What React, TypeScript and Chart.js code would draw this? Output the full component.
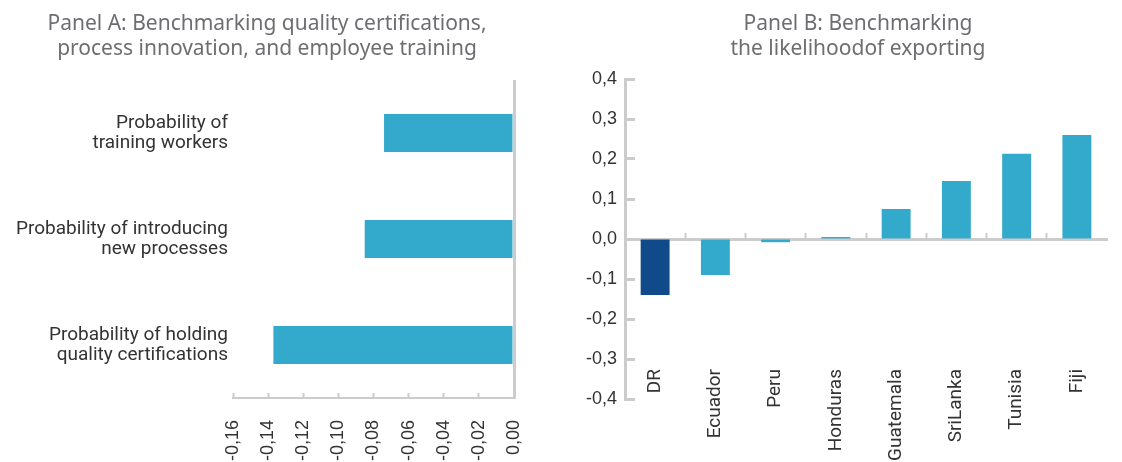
import React, { useEffect, useRef } from "react";
import { Chart, registerables } from "chart.js";

Chart.register(...registerables);

// ---- Data ----
const panelATitle = ["Panel A: Benchmarking quality certifications,", "process innovation, and employee training"];
const panelBTitle = ["Panel B: Benchmarking", "the likelihoodof exporting"];

const indicatorLabels = [
  ["Probability of", "training workers"],
  ["Probability of introducing", "new processes"],
  ["Probability of holding", "quality certifications"],
];
const indicatorValues = [-0.074, -0.085, -0.137];

const countries = ["DR", "Ecuador", "Peru", "Honduras", "Guatemala", "SriLanka", "Tunisia", "Fiji"];
const exportValues = [-0.14, -0.09, -0.008, 0.005, 0.075, 0.145, 0.213, 0.26];
const highlightCountry = "DR";

// ---- Styles ----
const LIGHT = "#33aacb";
const DARK = "#104a8a";
const AXIS = "#cccccc";
const TEXT = "#333333";
const TITLE = "#6d6e71";
const LABEL_FONT = "Roboto, 'Noto Sans', sans-serif";
const TITLE_FONT = "'Noto Sans', Roboto, sans-serif";
const NUM_FONT = "'Liberation Sans', Arial, sans-serif";

const fmt = (v: number, d: number) => {
  const n = Math.abs(v) < 1e-9 ? 0 : v;
  return n.toFixed(d).replace(".", ",");
};

const zeroPad = (s: any) => {
  s.paddingLeft = 0;
  s.paddingRight = 0;
  s.paddingTop = 0;
  s.paddingBottom = 0;
};

function PanelA() {
  const ref = useRef<HTMLCanvasElement>(null);
  useEffect(() => {
    const chart = new Chart(ref.current!, {
      type: "bar",
      data: {
        labels: indicatorLabels,
        datasets: [
          {
            data: indicatorValues,
            backgroundColor: LIGHT,
            barPercentage: 0.36,
            categoryPercentage: 1,
          },
        ],
      },
      options: {
        indexAxis: "y",
        animation: false,
        responsive: false,
        maintainAspectRatio: false,
        layout: { padding: { top: 80, right: 26, bottom: 0, left: 0 } },
        plugins: { legend: { display: false }, tooltip: { enabled: false } },
        scales: {
          x: {
            type: "linear",
            position: "bottom",
            min: -0.16,
            max: 0,
            ticks: {
              stepSize: 0.02,
              minRotation: 90,
              maxRotation: 90,
              padding: 27,
              color: TEXT,
              font: { family: NUM_FONT, size: 18 },
              callback: (v: any) => fmt(Number(v), 2),
            },
            grid: {
              color: (c: any) => (c.tick && Math.abs(c.tick.value) < 1e-9 ? AXIS : "rgba(0,0,0,0)"),
              lineWidth: 3,
              drawTicks: true,
              tickLength: -5,
              tickColor: AXIS,
              tickWidth: 2,
            },
            border: { display: true, color: AXIS, width: 2 },
            afterFit: (s: any) => {
              s.height = 64;
              zeroPad(s);
            },
          },
          y: {
            position: "left",
            grid: { display: false, drawTicks: false },
            border: { display: false },
            ticks: {
              padding: 5,
              color: TEXT,
              font: { family: LABEL_FONT, size: 19, lineHeight: 1.03 },
            },
            afterFit: (s: any) => {
              s.width = 233;
              zeroPad(s);
            },
          },
        },
      },
    } as any);
    return () => chart.destroy();
  }, []);
  return <canvas ref={ref} width={540} height={462} style={{ position: "absolute", left: 0, top: 0 }} />;
}

function PanelB() {
  const ref = useRef<HTMLCanvasElement>(null);
  useEffect(() => {
    const chart = new Chart(ref.current!, {
      type: "bar",
      data: {
        labels: countries,
        datasets: [
          {
            data: exportValues,
            backgroundColor: countries.map((c) => (c === highlightCountry ? DARK : LIGHT)),
            barPercentage: 0.48,
            categoryPercentage: 1,
            xAxisID: "x",
            yAxisID: "y",
          },
        ],
      },
      options: {
        animation: false,
        responsive: false,
        maintainAspectRatio: false,
        layout: { padding: { top: 79, right: 15, bottom: 63, left: 0 } },
        plugins: { legend: { display: false }, tooltip: { enabled: false } },
        scales: {
          x: {
            type: "category",
            position: { y: 0 },
            offset: true,
            ticks: { display: false },
            grid: {
              offset: true,
              drawOnChartArea: false,
              drawTicks: true,
              tickLength: -8,
              tickWidth: 2,
              tickColor: (c: any) => (c.type === "tick" ? AXIS : "rgba(0,0,0,0)"),
            },
            border: { display: true, color: AXIS, width: 3 },
            afterFit: zeroPad,
          },
          x2: {
            type: "category",
            position: { y: -0.4 },
            offset: true,
            grid: { display: false, drawTicks: false },
            border: { display: false },
            ticks: {
              minRotation: 90,
              maxRotation: 90,
              autoSkip: false,
              padding: -30,
              color: TEXT,
              font: { family: LABEL_FONT, size: 19 },
            },
            afterFit: zeroPad,
          },
          y: {
            position: "left",
            min: -0.4,
            max: 0.4,
            ticks: {
              stepSize: 0.1,
              padding: 18,
              color: TEXT,
              font: { family: NUM_FONT, size: 18 },
              callback: (v: any) => fmt(Number(v), 1),
            },
            grid: {
              drawOnChartArea: false,
              drawTicks: true,
              tickLength: -10,
              tickColor: AXIS,
              tickWidth: 3,
            },
            border: { display: true, color: AXIS, width: 3 },
            afterFit: (s: any) => {
              s.width = 85;
              zeroPad(s);
            },
          },
        },
      },
    } as any);
    return () => chart.destroy();
  }, []);
  return <canvas ref={ref} width={582} height={462} style={{ position: "absolute", left: 540, top: 0 }} />;
}

function Title({ lines, center }: { lines: string[]; center: number }) {
  return (
    <div
      style={{
        position: "absolute",
        left: center - 300,
        top: 10,
        width: 600,
        textAlign: "center",
        fontFamily: TITLE_FONT,
        fontSize: 21,
        lineHeight: "25px",
        color: TITLE,
      }}
    >
      {lines.map((l, i) => (
        <div key={i}>{l}</div>
      ))}
    </div>
  );
}

export default function App() {
  return (
    <div
      style={{
        position: "absolute",
        left: 0,
        top: 0,
        width: 1122,
        height: 462,
        overflow: "hidden",
        background: "#ffffff",
      }}
    >
      <PanelA />
      <PanelB />
      <Title lines={panelATitle} center={267} />
      <Title lines={panelBTitle} center={858} />
    </div>
  );
}
